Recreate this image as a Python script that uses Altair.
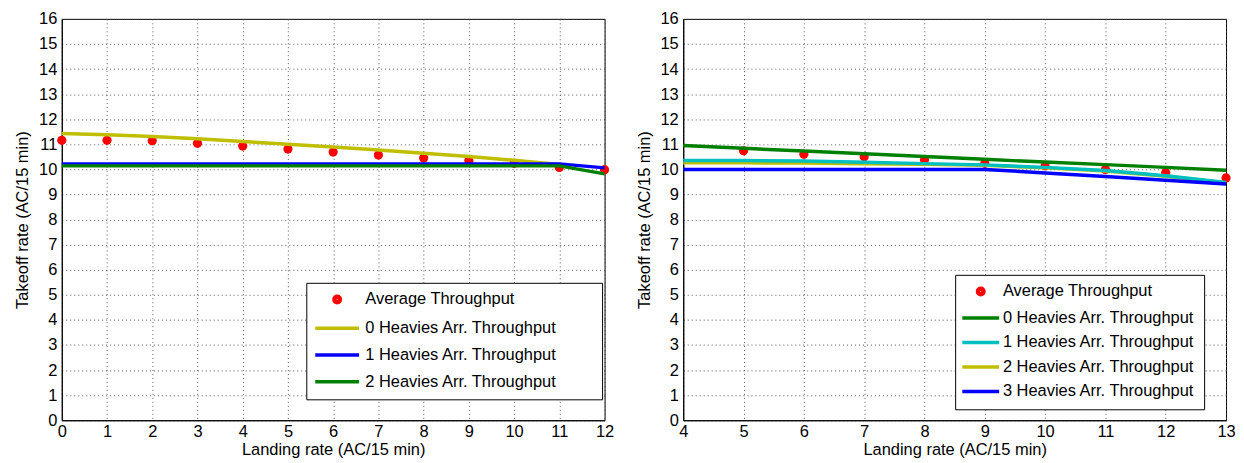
import altair as alt
import pandas as pd

FONT = "Liberation Sans"

AVG = "Average Throughput"
H0 = "0 Heavies Arr. Throughput"
H1 = "1 Heavies Arr. Throughput"
H2 = "2 Heavies Arr. Throughput"
H3 = "3 Heavies Arr. Throughput"

RED = "#ff0000"
YELLOW = "#bfbf00"
BLUE = "#0000ff"
GREEN = "#008000"
CYAN = "#00bfbf"

# ---- left panel data ----
left_avg_x = [0, 1, 2, 3, 4, 5, 6, 7, 8, 9, 10, 11, 12]
left_avg_y = [11.16, 11.16, 11.14, 11.04, 10.93, 10.81, 10.69, 10.57, 10.45, 10.35, 10.24, 10.08, 9.99]
left_h0_x = [0, 1, 2, 3, 4, 5, 6, 7, 8, 9, 10, 11]
left_h0_y = [11.43, 11.38, 11.31, 11.22, 11.11, 11.0, 10.89, 10.77, 10.64, 10.51, 10.36, 10.2]
left_h12_x = [0, 11, 12]
left_h1_y = [10.22, 10.22, 10.06]
left_h2_y = [10.14, 10.14, 9.82]

# ---- right panel data ----
right_avg_x = [5, 6, 7, 8, 9, 10, 11, 12, 13]
right_avg_y = [10.74, 10.60, 10.50, 10.38, 10.24, 10.14, 10.0, 9.87, 9.66]
right_x = [4, 5, 6, 7, 8, 9, 10, 11, 12, 13]
right_h0_y = [10.95, 10.84, 10.73, 10.62, 10.51, 10.40, 10.29, 10.19, 10.08, 9.97]
right_h1_y = [10.35, 10.35, 10.33, 10.28, 10.23, 10.18, 10.08, 9.96, 9.75, 9.48]
right_h2_y = [10.26, 10.26, 10.25, 10.22, 10.20, 10.16, 10.06, 9.94, 9.73, 9.46]
right_h3_y = [10.0, 10.0, 10.0, 10.0, 10.0, 10.0, 9.86, 9.72, 9.57, 9.42]

CIRCLE_PATH = ("M-0.542,0A0.542,0.542,0,1,1,0.542,0A0.542,0.542,0,1,1,-0.542,0Z"
               "M-0.208,0A0.208,0.208,0,1,1,0.208,0A0.208,0.208,0,1,1,-0.208,0Z")


def panel(avg_x, avg_y, legend_series, draw_series, xdom, xvals, legend_kw, half):
    domain = [AVG] + [s[0] for s in legend_series]
    colors = [RED] + [s[1] for s in legend_series]
    line_path = f"M-{half},0L{half},0"
    shapes = [CIRCLE_PATH] + [line_path] * len(legend_series)
    color_scale = alt.Scale(domain=domain, range=colors)
    shape_scale = alt.Scale(domain=domain, range=shapes)
    legend = alt.Legend(**legend_kw)
    xenc = alt.X("x:Q", scale=alt.Scale(domain=xdom, nice=False, zero=False),
                 axis=alt.Axis(values=xvals, title="Landing rate (AC/15 min)"))
    yenc = alt.Y("y:Q", scale=alt.Scale(domain=[0, 16], nice=False),
                 axis=alt.Axis(values=list(range(17)), title="Takeoff rate (AC/15 min)"))
    avg_df = pd.DataFrame({"x": avg_x, "y": avg_y, "series": AVG})
    carrier = alt.Chart(avg_df).mark_point(filled=False, strokeWidth=3.5, opacity=1).encode(
        x=xenc, y=yenc,
        color=alt.Color("series:N", scale=color_scale, legend=legend),
        shape=alt.Shape("series:N", scale=shape_scale, legend=legend),
    )
    dots = alt.Chart(avg_df).mark_circle(size=85, opacity=1, color=RED).encode(x=xenc, y=yenc)
    lines = []
    for name, xs, ys in draw_series:
        df = pd.DataFrame({"x": xs, "y": ys, "series": name})
        lines.append(
            alt.Chart(df).mark_line(strokeWidth=3.5).encode(
                x=xenc, y=yenc,
                color=alt.Color("series:N", scale=color_scale, legend=None),
            )
        )
    return alt.layer(carrier, dots, *lines).properties(width=545, height=403)


common_legend = dict(
    orient="none", padding=8.5, strokeColor="black", fillColor="white",
    cornerRadius=0, labelFont=FONT, labelFontSize=16.5, labelColor="black",
    labelLimit=600, symbolSize=144, symbolStrokeWidth=3.5,
)

left = panel(
    left_avg_x, left_avg_y,
    [(H0, YELLOW), (H1, BLUE), (H2, GREEN)],
    [(H0, left_h0_x, left_h0_y), (H1, left_h12_x, left_h1_y), (H2, left_h12_x, left_h2_y)],
    [0, 12], list(range(0, 13)),
    dict(common_legend, legendX=245.5, legendY=265, symbolOffset=14.25, labelOffset=20,
         rowPadding=9.9, title="\u00a0", titleOrient="right", titlePadding=37,
         titleFontSize=4),
    3.667,
)

right = panel(
    right_avg_x, right_avg_y,
    [(H0, GREEN), (H1, CYAN), (H2, YELLOW), (H3, BLUE)],
    [(H0, right_x, right_h0_y), (H2, right_x, right_h2_y), (H1, right_x, right_h1_y), (H3, right_x, right_h3_y)],
    [4, 13], list(range(4, 14)),
    dict(common_legend, title=None, legendX=273, legendY=257, symbolOffset=8.95, labelOffset=14,
         rowPadding=7.6),
    3.083,
)

chart = (
    alt.hconcat(left, right, spacing=21)
    .resolve_scale(color="independent", shape="independent")
    .resolve_legend(color="independent", shape="independent")
    .properties(padding={"left": 6, "top": 1, "right": 0, "bottom": 0})
    .configure(font=FONT)
    .configure_view(stroke="black", strokeWidth=1)
    .configure_axis(
        labelFont=FONT, labelFontSize=16.5, labelColor="black",
        titleFont=FONT, titleFontSize=16.5, titleFontWeight="normal", titleColor="black",
        domainColor="black", domainWidth=1,
        grid=True, gridColor="#444444", gridDash=[1, 3], gridWidth=1, gridOpacity=0.9,
        ticks=False, labelFlush=False, labelOverlap=False,
    )
    .configure_axisX(labelPadding=3, titlePadding=2)
    .configure_axisY(labelPadding=5, titlePadding=8)
)

chart.save("out.html", embed_options={"renderer": "svg", "actions": False})
